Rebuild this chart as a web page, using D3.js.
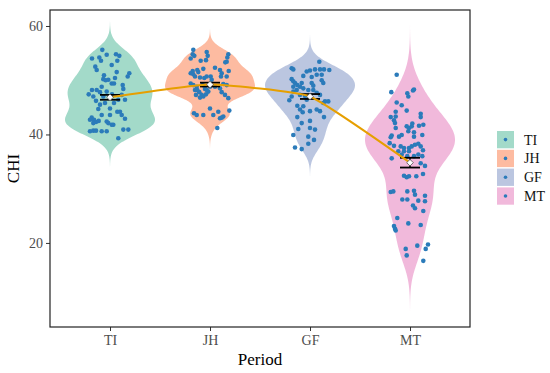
<!DOCTYPE html>
<html lang="en">
<head>
  <meta charset="utf-8">
  <title>CHI by period</title>
  <script src="https://d3js.org/d3.v7.min.js"></script>
  <style>
    body { margin: 0; background: #fff; }
    svg text { font-family: "Liberation Serif", "DejaVu Serif", serif; }
  </style>
</head>
<body>
  <div id="chart"></div>

  <script>
    "use strict"

    // categories and summary values
    var periods = ["TI", "JH", "GF", "MT"];
    var meanCHI = [46.85, 49.2, 47.0, 34.8];
    var seCHI = [0.45, 0.35, 0.45, 0.9];
    var yTicks = [20, 40, 60];

    // raw values and their horizontal jitter (in category units)
    var tiCHI = [55.6,54.0,54.2,53.6,54.7,54.8,54.5,53.6,52.8,52.5,51.9,51.3,50.7,51.5,50.9,50.2,50.0,50.1,49.4,49.4,50.4,49.1,48.4,48.2,48.2,48.8,47.8,47.4,47.0,46.2,47.0,47.4,47.3,46.4,46.4,45.8,45.8,44.7,44.8,44.2,43.6,44.2,43.1,42.7,42.3,42.5,42.7,42.1,43.6,43.6,42.4,41.8,42.9,40.6,40.7,40.7,40.6,40.6,39.3,40.9,40.9,41.8,42.1,45.5,47.9];
    var tiJitter = [-0.077,-0.18,-0.107,-0.09,-0.033,0.06,0.093,0.073,0.017,-0.147,-0.133,0.193,0.177,0.067,-0.06,-0.067,-0.043,-0.017,0.017,0.04,0.05,0.127,0.133,-0.18,-0.133,-0.083,-0.1,-0.213,-0.167,-0.14,-0.067,0.02,0.117,0.15,0.083,0.04,-0.05,-0.117,0,0.1,0.117,0.073,-0.183,-0.16,-0.14,-0.113,-0.2,-0.167,-0.083,0,-0.033,0.033,0.15,-0.2,-0.167,-0.14,-0.083,-0.033,0.083,0.133,0.183,0.017,-0.017,-0.1,-0.033];

    var jhCHI = [55.6,54.8,54.0,54.5,55.2,54.5,53.7,53.6,54.8,54.2,53.4,53.3,52.3,52.1,51.9,51.7,51.3,51.1,50.7,51.5,50.5,50.4,50.7,50.7,50.1,51.9,51.3,50.7,51.7,50.7,49.4,49.1,48.8,48.2,47.8,47.3,47.0,47.4,47.9,47.3,46.8,48.4,48.8,48.8,48.5,47.8,47.3,46.7,49.1,49.3,44.4,44.2,44.8,43.9,43.6,43.6,43.6,43.3,43.0,43.1,41.2,48.2,49.1,48.2];
    var jhJitter = [-0.167,-0.173,-0.193,-0.157,-0.033,-0.023,-0.04,-0.093,0.183,0.173,0.167,0.153,0.05,-0.067,-0.127,-0.173,-0.193,-0.167,-0.15,-0.117,-0.1,-0.057,-0.033,0.007,0.017,0.1,0.117,0.11,0.187,0.167,-0.193,-0.167,-0.133,-0.15,-0.107,-0.083,-0.067,-0.04,-0.017,-0.14,-0.1,-0.05,0,0.05,0.1,0.117,0.15,0.183,0.167,0.133,0.193,0.083,0,-0.16,-0.133,-0.067,0.033,0.133,0.1,0.117,0.073,-0.033,-0.073,-0.127];

    var gfCHI = [53.4,52.2,52.0,51.8,52.0,52.0,52.0,51.9,51.6,50.8,50.6,51.0,51.0,50.2,49.8,49.5,49.1,48.8,48.5,49.5,49.5,49.0,50.0,49.5,48.2,48.2,48.2,47.9,47.0,46.3,47.3,47.1,47.7,47.3,46.1,46.1,45.8,45.3,45.2,44.6,44.1,44.3,44.6,44.3,43.2,43.2,42.5,42.1,41.0,41.2,40.9,39.9,39.6,39.0,38.3,37.6,37.3,46.4,48.8];
    var gfJitter = [0.093,-0.183,-0.167,0,0.05,0.1,0.14,0.193,-0.033,-0.067,0.017,0.117,0.067,-0.183,-0.167,-0.15,-0.127,-0.1,-0.067,-0.083,0.017,0.033,0.117,0.133,-0.017,0.033,-0.133,-0.167,-0.183,-0.207,-0.1,-0.05,0.067,0.1,0.15,0.183,0.133,-0.127,-0.067,-0.1,-0.073,0,0.067,0.1,0.14,-0.127,0,-0.083,-0.117,0,0.05,-0.167,-0.017,0.04,-0.017,-0.15,-0.083,-0.033,-0.167];

    var mtCHI = [51.0,47.8,47.6,47.0,48.1,48.3,45.9,45.4,44.4,44.2,43.2,43.8,43.2,42.6,42.1,41.8,41.5,41.2,41.5,42.0,41.6,40.6,41.2,39.8,39.5,39.9,39.6,39.9,38.4,37.9,37.8,37.5,37.5,37.8,38.1,38.3,37.8,37.1,35.6,36.3,36.9,36.0,36.0,36.3,36.0,34.2,34.7,32.7,32.4,32.1,32.3,29.4,29.5,29.5,28.0,28.0,29.6,28.9,27.8,28.7,27.7,26.9,26.4,25.9,24.6,23.6,23.3,23.1,22.6,22.3,18.9,17.7,19.5,18.9,19.7,16.7,36.9,39.6,36.9,32.3,43.3,40.4];
    var mtJitter = [-0.133,-0.187,-0.027,-0.017,0.03,0.04,-0.133,-0.083,-0.033,-0.143,-0.193,0.107,0.107,-0.16,-0.15,0.133,-0.033,-0.01,0.017,0.023,0.09,-0.017,-0.143,-0.183,-0.193,-0.083,0.04,0.123,-0.203,-0.16,-0.093,-0.06,-0.01,0.017,0.05,0.083,0.107,0.13,-0.183,-0.083,-0.06,-0.027,0.04,0.083,0.123,0.15,0.107,0.13,-0.06,-0.033,-0.01,-0.193,-0.167,-0.027,-0.077,-0.027,0.04,0.05,0.083,0.15,0.15,0.03,0.05,0.133,-0.127,-0.017,0.107,-0.16,-0.15,-0.143,-0.043,-0.033,0.073,0.157,0.18,0.133,-0.01,-0.11,-0.117,0.063,-0.143,0.04];

    var groupValues = [tiCHI, jhCHI, gfCHI, mtCHI];
    var groupJitter = [tiJitter, jhJitter, gfJitter, mtJitter];
    var fills = ["#66C2A5", "#FC8D62", "#8DA0CB", "#E78AC3"];

    // kernel density as ggplot's violin does it (gaussian, nrd0, cut = 3)
    function kde(vals) {
      var s = vals.slice().sort(d3.ascending);
      var sd = d3.deviation(s);
      var iqr = (d3.quantile(s, 0.75) - d3.quantile(s, 0.25)) / 1.34;
      var bw = 0.9 * Math.min(sd, iqr) * Math.pow(s.length, -0.2);
      var lo = s[0] - 3 * bw, hi = s[s.length - 1] + 3 * bw;
      var out = [];
      for (var i = 0; i <= 200; i++) {
        var v = lo + (hi - lo) * i / 200;
        var d = d3.mean(s, function(x) {
          var u = (v - x) / bw;
          return Math.exp(-0.5 * u * u);
        });
        out.push({v: v, d: d});
      }
      var mx = d3.max(out, function(o) { return o.d; });
      out.forEach(function(o) { o.d = o.d / mx; });
      return out;
    }

    var larguraSVG = 550, alturaSVG = 373;
    var margin = {top: 10, right: 80, bottom: 46, left: 50};
    var larguraVis = larguraSVG - margin.left - margin.right,
        alturaVis = alturaSVG - margin.top - margin.bottom;

    var svg = d3.select('#chart').append('svg')
      .attr('width', larguraSVG)
      .attr('height', alturaSVG);

    var grafico = svg.append('g')
      .attr('transform', 'translate(' + margin.left + ',' + margin.top + ')');

    var x = d3.scalePoint()
      .domain(periods)
      .range([0, larguraVis])
      .padding(0.6);
    var step = x.step();

    var y = d3.scaleLinear()
      .domain([4.5, 62.95])
      .range([alturaVis, 0]);

    // violins
    periods.forEach(function(p, i) {
      var dens = kde(groupValues[i]);
      var cx = x(p);
      var area = d3.area()
        .y(function(d) { return y(d.v); })
        .x0(function(d) { return cx - d.d * 0.45 * step; })
        .x1(function(d) { return cx + d.d * 0.45 * step; });
      grafico.append('path')
        .datum(dens)
        .attr('d', area)
        .attr('fill', fills[i])
        .attr('fill-opacity', 0.6);
    });

    // jittered points
    periods.forEach(function(p, i) {
      grafico.selectAll('.pt' + i)
        .data(groupValues[i])
        .enter()
        .append('circle')
          .attr('class', 'pt' + i)
          .attr('r', 2.3)
          .attr('cx', function(d, j) { return x(p) + groupJitter[i][j] * step; })
          .attr('cy', function(d) { return y(d); })
          .attr('fill', '#2b7bba');
    });

    // error bars
    var summary = periods.map(function(p, i) {
      return {p: p, m: meanCHI[i], se: seCHI[i]};
    });
    var eb = grafico.selectAll('.eb').data(summary).enter().append('g').attr('class', 'eb');
    eb.append('line')
      .attr('x1', function(d) { return x(d.p); })
      .attr('x2', function(d) { return x(d.p); })
      .attr('y1', function(d) { return y(d.m + d.se); })
      .attr('y2', function(d) { return y(d.m - d.se); })
      .attr('stroke', 'black').attr('stroke-width', 1.5);
    [1, -1].forEach(function(sg) {
      eb.append('line')
        .attr('x1', function(d) { return x(d.p) - 0.1 * step; })
        .attr('x2', function(d) { return x(d.p) + 0.1 * step; })
        .attr('y1', function(d) { return y(d.m + sg * d.se); })
        .attr('y2', function(d) { return y(d.m + sg * d.se); })
        .attr('stroke', 'black').attr('stroke-width', 1.8);
    });

    // line through means
    var linha = d3.line()
      .x(function(d) { return x(d.p); })
      .y(function(d) { return y(d.m); })
      .curve(d3.curveCardinal.tension(0.6));
    grafico.append('path')
      .datum(summary)
      .attr('d', linha)
      .attr('fill', 'none')
      .attr('stroke', '#E69F00')
      .attr('stroke-width', 2);

    // mean markers
    grafico.selectAll('.mean').data(summary).enter()
      .append('path')
        .attr('class', 'mean')
        .attr('d', d3.symbol().type(d3.symbolDiamond2).size(28))
        .attr('transform', function(d) { return 'translate(' + x(d.p) + ',' + y(d.m) + ')'; })
        .attr('fill', 'white')
        .attr('stroke', '#555')
        .attr('stroke-width', 0.8);

    // axes
    var ax = grafico.append('g')
      .attr('transform', 'translate(0,' + alturaVis + ')')
      .call(d3.axisBottom(x).tickSize(4).tickPadding(4));
    var ay = grafico.append('g')
      .call(d3.axisLeft(y).tickValues(yTicks).tickSize(4).tickPadding(3));
    [ax, ay].forEach(function(a) {
      a.attr('font-family', null).attr('font-size', null);
      a.select('.domain').remove();
      a.selectAll('.tick line').attr('stroke', '#333').attr('stroke-width', 1);
      a.selectAll('.tick text')
        .attr('fill', '#4d4d4d')
        .style('font-size', '14px')
        .style('font-family', '"Liberation Serif", serif');
    });

    // panel border
    grafico.append('rect')
      .attr('width', larguraVis)
      .attr('height', alturaVis)
      .attr('fill', 'none')
      .attr('stroke', '#222')
      .attr('stroke-width', 1.2);

    // axis titles
    svg.append('text')
      .attr('x', margin.left + larguraVis / 2)
      .attr('y', 365)
      .attr('text-anchor', 'middle')
      .attr('font-size', 17)
      .text('Period');
    svg.append('text')
      .attr('transform', 'translate(19,' + (margin.top + alturaVis / 2) + ') rotate(-90)')
      .attr('text-anchor', 'middle')
      .attr('font-size', 17)
      .text('CHI');

    // legend
    var leg = svg.append('g').attr('transform', 'translate(497,131)');
    var item = leg.selectAll('g').data(periods).enter().append('g')
      .attr('transform', function(d, i) { return 'translate(0,' + i * 18.8 + ')'; });
    item.append('rect')
      .attr('width', 17).attr('height', 17.3)
      .attr('fill', function(d, i) { return fills[i]; })
      .attr('fill-opacity', 0.6);
    item.append('circle')
      .attr('cx', 8.5).attr('cy', 8.6).attr('r', 1.8)
      .attr('fill', '#2b7bba');
    item.append('text')
      .attr('x', 27).attr('y', 13.5)
      .attr('font-size', 14)
      .attr('fill', '#111')
      .text(function(d) { return d; });
  </script>
</body>
</html>
